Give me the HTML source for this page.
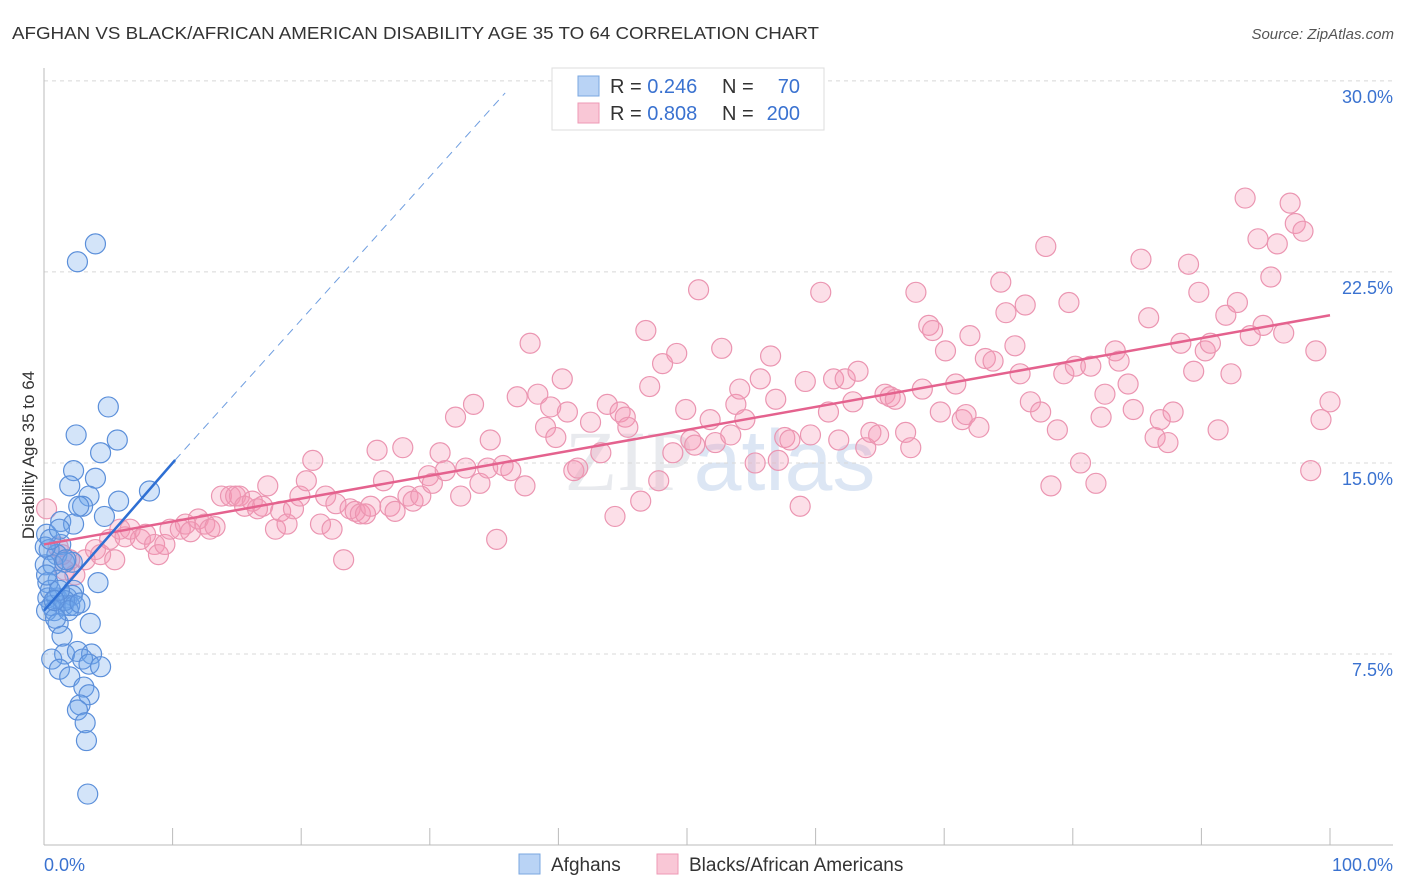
<!DOCTYPE html>
<html><head><meta charset="utf-8"><style>
body{margin:0;background:#fff;font-family:"Liberation Sans",sans-serif;}
#wrap{position:relative;width:1406px;height:892px;overflow:hidden}
</style></head><body>
<div id="wrap">
<svg id="svg" width="1406" height="892">
<text x="12" y="39" font-size="17.5" fill="#333" textLength="807" lengthAdjust="spacingAndGlyphs">AFGHAN VS BLACK/AFRICAN AMERICAN DISABILITY AGE 35 TO 64 CORRELATION CHART</text>
<text x="1394" y="39" font-size="15" fill="#555" font-style="italic" text-anchor="end">Source: ZipAtlas.com</text>
<text x="720" y="490" font-size="86" fill="#e8eaee" text-anchor="middle" font-family="Liberation Serif,serif">ZIP<tspan fill="#dce6f4" font-family="Liberation Sans,sans-serif">atlas</tspan></text>
<g id="grid"></g><g id="pts"></g><g id="lines"></g>
<text transform="translate(34,455) rotate(-90)" font-size="17" fill="#333" text-anchor="middle">Disability Age 35 to 64</text>
<g>
<rect x="552" y="68" width="272" height="62" fill="#fff" stroke="#ddd"/>
<rect x="578" y="76" width="21" height="20" fill="#b9d3f5" stroke="#7aa7e0"/>
<rect x="578" y="103" width="21" height="20" fill="#f9c7d6" stroke="#ee9ab5"/>
<text x="610" y="93" font-size="20" fill="#333">R = <tspan fill="#3a72d0">0.246</tspan></text>
<text x="722" y="93" font-size="20" fill="#333">N = </text><text x="800" y="93" font-size="20" fill="#3a72d0" text-anchor="end">70</text>
<text x="610" y="120" font-size="20" fill="#333">R = <tspan fill="#3a72d0">0.808</tspan></text>
<text x="722" y="120" font-size="20" fill="#333">N = </text><text x="800" y="120" font-size="20" fill="#3a72d0" text-anchor="end">200</text>
</g>
<g>
<rect x="519" y="854" width="21" height="20" fill="#b9d3f5" stroke="#7aa7e0"/>
<text x="551" y="871" font-size="19" fill="#333">Afghans</text>
<rect x="657" y="854" width="21" height="20" fill="#f9c7d6" stroke="#ee9ab5"/>
<text x="689" y="871" font-size="19" fill="#333">Blacks/African Americans</text>
</g>
<text x="44" y="871" font-size="18" fill="#3a72d0">0.0%</text>
<text x="1393" y="871" font-size="18" fill="#3a72d0" text-anchor="end">100.0%</text>
</svg></div>
<script>
const yTicks=[7.5,15,22.5,30];
const yTickLabels=["7.5%","15.0%","22.5%","30.0%"];
const xTicks=[0,10,20,30,40,50,60,70,80,90,100];
const blueX=[4.0,2.6,5.0,2.5,5.7,4.4,2.3,4.0,2.0,3.5,5.8,8.2,3.0,2.7,4.7,1.3,2.3,0.2,1.3,0.4,1.0,0.1,0.7,1.6,1.1,0.3,4.2,2.3,0.3,1.0,1.8,2.2,0.6,1.5,2.0,2.4,1.6,0.8,0.2,3.6,1.1,1.4,1.6,2.6,3.7,3.0,0.6,3.5,4.4,1.2,2.0,3.1,3.5,2.8,2.6,3.2,3.3,3.4,0.5,0.2,1.2,1.9,0.9,2.8,0.1,0.5,2.2,1.7,1.2,0.8];
const blueY=[23.6,22.9,17.2,16.1,15.9,15.4,14.7,14.4,14.1,13.7,13.5,13.9,13.3,13.3,12.9,12.7,12.6,12.2,11.8,11.6,11.4,11.0,11.0,11.1,10.4,10.3,10.3,10.0,9.7,9.7,9.7,9.8,9.4,9.4,9.4,9.4,9.6,9.2,9.2,8.7,8.7,8.2,7.5,7.6,7.5,7.3,7.3,7.1,7.0,6.9,6.6,6.2,5.9,5.5,5.3,4.8,4.1,2.0,10.0,10.6,10.0,9.2,8.9,9.5,11.7,12.0,11.1,11.2,12.4,9.6];
const pinkX=[0.2,1.1,1.4,2.0,1.6,2.4,3.2,4.0,4.4,5.1,5.5,5.9,6.3,6.7,7.5,7.9,8.6,8.9,9.4,9.8,10.6,11.0,11.4,12.0,12.5,12.9,13.3,13.8,14.5,14.9,15.2,15.6,16.2,16.6,17.0,17.4,18.0,18.4,18.9,19.4,19.9,20.4,20.9,21.5,21.9,22.4,22.7,23.3,23.8,24.2,24.6,25.0,25.4,25.9,26.4,26.9,27.3,27.9,28.3,28.7,29.3,29.9,30.2,30.8,31.2,32.0,32.4,32.8,33.4,33.9,34.5,34.7,35.2,35.7,36.3,36.8,37.4,37.8,38.4,39.0,39.4,39.8,40.3,40.7,41.2,41.5,42.5,43.3,43.8,44.4,44.8,45.2,45.4,46.4,46.8,47.1,47.8,48.1,48.9,49.2,49.9,50.3,50.6,50.9,51.8,52.2,52.7,53.4,53.8,54.1,54.5,55.3,55.7,56.5,56.9,57.1,57.6,58.0,58.8,59.2,59.6,60.4,61.0,61.4,61.8,62.3,62.9,63.3,63.9,64.3,64.9,65.4,65.8,66.2,67.0,67.4,67.8,68.3,68.8,69.1,69.7,70.1,70.9,71.4,71.7,72.0,72.7,73.2,73.8,74.4,74.8,75.5,75.9,76.3,76.7,77.5,77.9,78.3,78.8,79.3,79.7,80.2,80.6,81.4,81.8,82.2,82.5,83.3,83.6,84.3,84.7,85.3,85.9,86.4,86.8,87.4,87.8,88.4,89.0,89.4,89.8,90.3,90.7,91.3,91.9,92.3,92.8,93.4,93.8,94.4,94.8,95.4,95.9,96.4,96.9,97.3,97.9,98.5,98.9,99.3,100.0];
const pinkY=[13.2,11.7,11.4,11.2,10.8,10.6,11.2,11.6,11.4,12.0,11.2,12.4,12.1,12.4,12.0,12.2,11.8,11.4,11.8,12.4,12.4,12.6,12.3,12.8,12.6,12.4,12.5,13.7,13.7,13.7,13.7,13.3,13.5,13.2,13.3,14.1,12.4,13.1,12.6,13.2,13.7,14.3,15.1,12.6,13.7,12.4,13.4,11.2,13.2,13.1,13.0,13.0,13.3,15.5,14.3,13.3,13.1,15.6,13.7,13.5,13.7,14.5,14.2,15.4,14.7,16.8,13.7,14.8,17.3,14.2,14.8,15.9,12.0,14.9,14.7,17.6,14.1,19.7,17.7,16.4,17.2,16.0,18.3,17.0,14.7,14.8,16.6,15.4,17.3,12.9,17.0,16.8,16.4,13.5,20.2,18.0,14.3,18.9,15.4,19.3,17.1,15.9,15.7,21.8,16.7,15.8,19.5,16.1,17.3,17.9,16.7,15.0,18.3,19.2,17.5,15.1,16.0,15.9,13.3,18.2,16.1,21.7,17.0,18.3,15.9,18.3,17.4,18.6,15.6,16.2,16.1,17.7,17.6,17.5,16.2,15.6,21.7,17.9,20.4,20.2,17.0,19.4,18.1,16.7,16.9,20.0,16.4,19.1,19.0,22.1,20.9,19.6,18.5,21.2,17.4,17.0,23.5,14.1,16.3,18.5,21.3,18.8,15.0,18.8,14.2,16.8,17.7,19.4,19.0,18.1,17.1,23.0,20.7,16.0,16.7,15.8,17.0,19.7,22.8,18.6,21.7,19.4,19.7,16.3,20.8,18.5,21.3,25.4,20.0,23.8,20.4,22.3,23.6,20.1,25.2,24.4,24.1,14.7,19.4,16.7,17.4];
const blueTrend=[9.2,0.58]; // intercept, slope
const pinkTrend=[11.8,0.09];

const NS="http://www.w3.org/2000/svg";
const X=v=>44+v*12.86, Y=v=>845-v*25.47;
function mk(tag,attrs,parent){const e=document.createElementNS(NS,tag);for(const k in attrs)e.setAttribute(k,attrs[k]);parent.appendChild(e);return e;}
const grid=document.getElementById('grid'),pts=document.getElementById('pts'),lines=document.getElementById('lines'),svg=document.getElementById('svg');
yTicks.forEach((t,i)=>{
 const l=mk('line',{x1:44,x2:1393,y1:Y(t),y2:Y(t),stroke:'#d8d8d8','stroke-dasharray':'4,4'},grid);
 
 
 const tx=mk('text',{x:1393,y:Y(t)+22,'font-size':18,fill:'#3a72d0','text-anchor':'end'},grid);
 tx.textContent=yTickLabels[i];
 
 
});
const ax=mk('line',{x1:44,x2:1393,y1:845,y2:845,stroke:'#bbb'},grid);


const ay=mk('line',{x1:44,x2:44,y1:68,y2:845,stroke:'#bbb'},grid);


xTicks.forEach(t=>{
 const l=mk('line',{x1:X(t),x2:X(t),y1:828,y2:845,stroke:'#bbb'},grid);
 
 
});
pinkX.forEach((x,i)=>{
 const c=mk('circle',{cx:X(x),cy:Y(pinkY[i]),r:10,fill:'rgba(244,150,180,0.3)',stroke:'#eb95b1','stroke-width':1.2},pts);
 
 
});
blueX.forEach((x,i)=>{
 const c=mk('circle',{cx:X(x),cy:Y(blueY[i]),r:10,fill:'rgba(110,165,235,0.3)',stroke:'#5b8fda','stroke-width':1.2},pts);
 
 
});
const pl=mk('line',{x1:X(0),y1:Y(pinkTrend[0]),x2:X(100),y2:Y(pinkTrend[0]+100*pinkTrend[1]),stroke:'#e4628e','stroke-width':2.5},lines);


const bxEnd=10.2, bxDash=(30-blueTrend[0])/blueTrend[1];
const bl=mk('line',{x1:X(0),y1:Y(blueTrend[0]),x2:X(bxEnd),y2:Y(blueTrend[0]+bxEnd*blueTrend[1]),stroke:'#2e6fd3','stroke-width':2.5},lines);


const bd=mk('line',{x1:X(bxEnd),y1:Y(blueTrend[0]+bxEnd*blueTrend[1]),x2:X(bxDash),y2:Y(30)+12,stroke:'#6f9ee0','stroke-width':1,'stroke-dasharray':'8,6'},lines);


</script>
</body></html>
